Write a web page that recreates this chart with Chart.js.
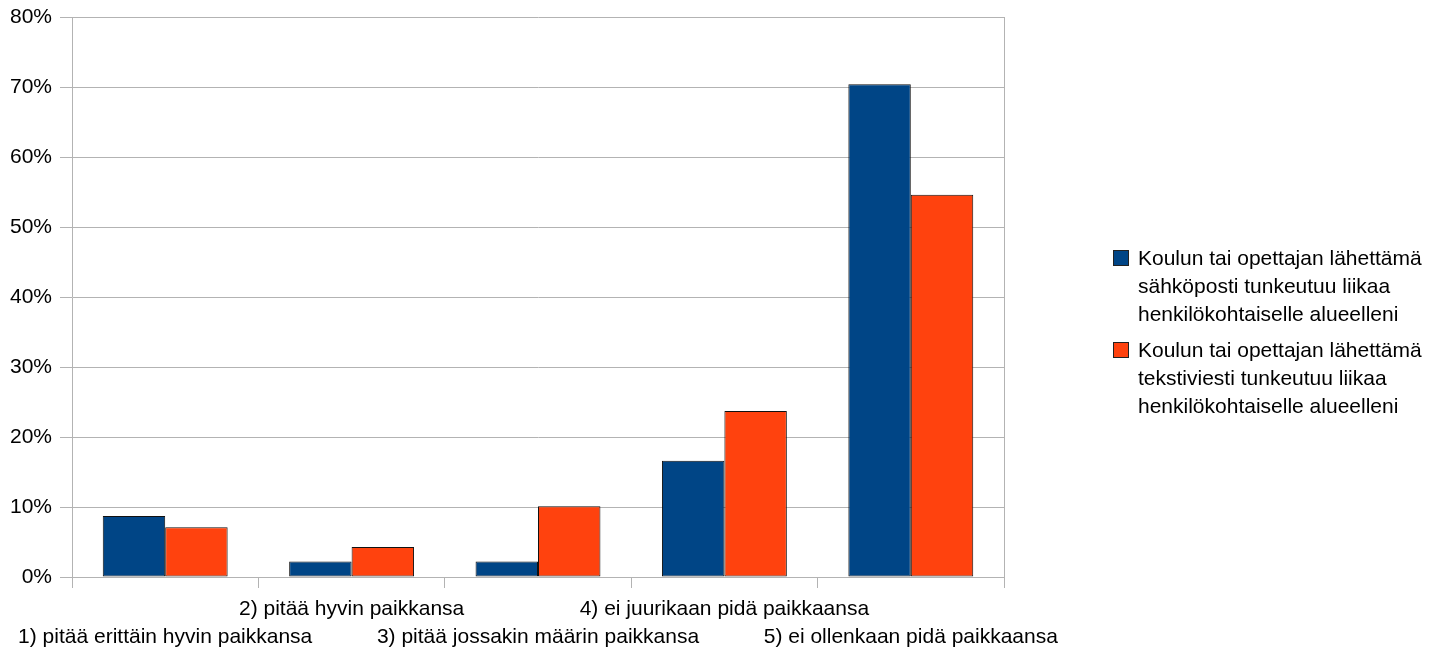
<!DOCTYPE html>
<html>
<head>
<meta charset="utf-8">
<script src="https://cdn.jsdelivr.net/npm/chart.js@4"></script>
<style>
html,body{margin:0;padding:0;background:#fff;}
#c{display:block;}
</style>
</head>
<body>
<canvas id="c" width="1439" height="652"></canvas>
<script>
const categories = [
  "1) pitää erittäin hyvin paikkansa",
  "2) pitää hyvin paikkansa",
  "3) pitää jossakin määrin paikkansa",
  "4) ei juurikaan pidä paikkaansa",
  "5) ei ollenkaan pidä paikkaansa"
];
const emailValues = [8.7, 2.2, 2.2, 16.6, 70.4];
const smsValues = [7.1, 4.3, 10.1, 23.7, 54.6];
const emailLabelLines = ["Koulun tai opettajan lähettämä", "sähköposti tunkeutuu liikaa", "henkilökohtaiselle alueelleni"];
const smsLabelLines = ["Koulun tai opettajan lähettämä", "tekstiviesti tunkeutuu liikaa", "henkilökohtaiselle alueelleni"];
const yTicks = [0, 10, 20, 30, 40, 50, 60, 70, 80];

const FONT = "'Liberation Sans', Arial, sans-serif";
const GRID = '#b3b3b3';

const legendPlugin = {
  id: 'sideLegend',
  afterDraw(chart) {
    const ctx = chart.ctx;
    const a = chart.chartArea;
    ctx.save();
    ctx.strokeStyle = GRID;
    ctx.lineWidth = 1;
    ctx.beginPath();
    ctx.moveTo(Math.round(a.right) + 0.5, a.top);
    ctx.lineTo(Math.round(a.right) + 0.5, a.bottom);
    ctx.stroke();

    const lines = [emailLabelLines, smsLabelLines];
    const x0 = 1113, lh = 28;
    let y = 250;
    ctx.font = '21px ' + FONT;
    ctx.textBaseline = 'middle';
    ctx.textAlign = 'left';
    chart.data.datasets.forEach((ds, i) => {
      ctx.fillStyle = ds.backgroundColor;
      ctx.fillRect(x0, y, 16, 16);
      ctx.strokeStyle = '#222';
      ctx.strokeRect(x0 + 0.5, y + 0.5, 15, 15);
      ctx.fillStyle = '#000';
      lines[i].forEach((t, j) => {
        ctx.fillText(t, x0 + 25, y + 9 + j * lh);
      });
      y += 3 * lh + 8;
    });
    ctx.restore();
  }
};

new Chart(document.getElementById('c'), {
  type: 'bar',
  data: {
    labels: categories,
    datasets: [
      { label: emailLabelLines.join(' '), data: emailValues, backgroundColor: '#004586', borderColor: '#111', borderWidth: 1, borderSkipped: false },
      { label: smsLabelLines.join(' '), data: smsValues, backgroundColor: '#ff420e', borderColor: '#111', borderWidth: 1, borderSkipped: false }
    ]
  },
  options: {
    responsive: false,
    devicePixelRatio: 1,
    animation: false,
    layout: { padding: { left: 0, top: 17, right: 435, bottom: 0 } },
    datasets: { bar: { categoryPercentage: 0.67, barPercentage: 1.0 } },
    plugins: { legend: { display: false }, tooltip: { enabled: false } },
    scales: {
      x: {
        grid: { display: true, offset: true, drawOnChartArea: false, drawTicks: true, tickLength: 11, color: GRID },
        border: { display: true, color: GRID },
        ticks: {
          autoSkip: false, maxRotation: 0, minRotation: 0, padding: 7, color: '#000',
          font: { family: FONT, size: 21, lineHeight: 1.333 },
          callback: function (v, i) { return i % 2 === 0 ? ['', categories[i]] : [categories[i], '']; }
        },
        afterFit(scale) { scale.height = 75; scale.paddingLeft = 0; scale.paddingRight = 0; }
      },
      y: {
        min: 0, max: 80,
        afterBuildTicks(scale) { scale.ticks = yTicks.map(v => ({ value: v })); },
        grid: { color: GRID, tickLength: 12, drawTicks: true },
        border: { display: true, color: GRID },
        ticks: {
          padding: 8, color: '#000',
          font: { family: FONT, size: 21 },
          callback: v => v + '%'
        },
        afterFit(scale) { scale.width = 72; scale.paddingTop = 0; scale.paddingBottom = 0; }
      }
    }
  },
  plugins: [legendPlugin]
});
</script>
</body>
</html>
